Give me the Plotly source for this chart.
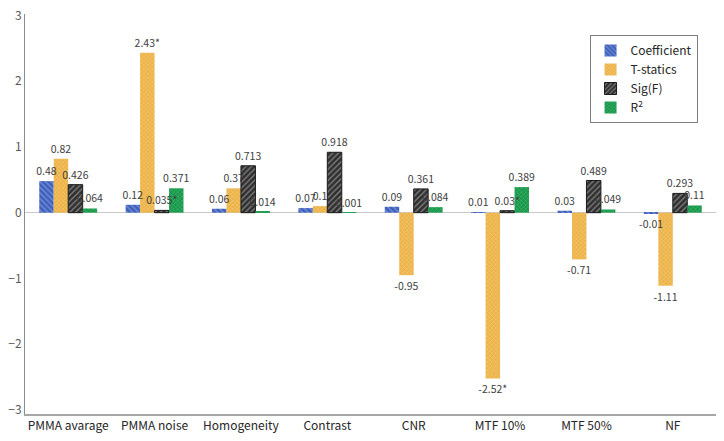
import plotly.graph_objects as go

categories = ["PMMA avarage", "PMMA noise", "Homogeneity", "Contrast", "CNR", "MTF 10%", "MTF 50%", "NF"]
coefficient = [0.48, 0.12, 0.06, 0.07, 0.09, 0.01, 0.03, -0.01]
t_statics = [0.82, 2.43, 0.37, 0.1, -0.95, -2.52, -0.71, -1.11]
sig_f = [0.426, 0.035, 0.713, 0.918, 0.361, 0.03, 0.489, 0.293]
r2 = [0.064, 0.371, 0.014, 0.001, 0.084, 0.389, 0.049, 0.11]

coef_labels = ["0.48", "0.12", "0.06", "0.07", "0.09", "0.01", "0.03", "-0.01"]
t_labels = ["0.82", "2.43*", "0.37", "0.1", "-0.95", "-2.52*", "-0.71", "-1.11"]
sig_labels = ["0.426", "0.035*", "0.713", "0.918", "0.361", "0.03*", "0.489", "0.293"]
r2_labels = ["0.064", "0.371", "0.014", "0.001", "0.084", "0.389", "0.049", "0.11"]

FONT = "Noto Sans CJK KR"
TXT = "#404040"

series = [
    ("Coefficient", coefficient, coef_labels, "#3E60BC", "#A9BDEB", "\\", 4, 0.35, None, 0),
    ("T-statics", t_statics, t_labels, "#EDB348", "#F9DFA6", "x", 3, 0.35, None, 0),
    ("Sig(F)", sig_f, sig_labels, "#2E2E2E", "#CFCFCF", "/", 4, 0.35, "#1a1a1a", 1),
    ("R<sup>2</sup>", r2, r2_labels, "#17984A", "#74CC92", "x", 3, 0.35, None, 0),
]

fig = go.Figure()
# visible bars
for name, vals, labels, bg, fg, shape, size, sol, lc, lw in series:
    fig.add_trace(go.Bar(
        name=name, x=categories, y=vals,
        marker=dict(
            color=bg,
            line=dict(color=lc or bg, width=lw),
            pattern=dict(shape=shape, fgcolor=fg, bgcolor=bg, size=size,
                         solidity=sol, fillmode="overlay"),
        ),
        xaxis="x", yaxis="y",
    ))
# data labels drawn on an overlaid axis so they sit above all bars
for name, vals, labels, bg, fg, shape, size, sol, lc, lw in series:
    fig.add_trace(go.Bar(
        name=name, x=categories, y=vals, text=labels, showlegend=False,
        textposition="outside", constraintext="none", cliponaxis=False,
        textfont=dict(family=FONT, size=10.5, color=TXT),
        marker=dict(color="rgba(0,0,0,0)", line=dict(width=0)),
        xaxis="x2", yaxis="y", hoverinfo="skip",
    ))

fig.update_layout(
    width=724, height=441,
    margin=dict(l=25, r=8, t=14, b=27),
    paper_bgcolor="white", plot_bgcolor="white",
    barmode="group", bargap=0.33, bargroupgap=0,
    font=dict(family=FONT, size=12, color=TXT),
    showlegend=True,
    legend=dict(
        x=0.817, y=0.9475, xanchor="left", yanchor="top",
        bordercolor="#7f7f7f", borderwidth=1, bgcolor="white",
        font=dict(family=FONT, size=12, color="#262626"),
        itemwidth=30, tracegroupgap=0,
    ),
    xaxis2=dict(overlaying="x", matches="x", visible=False, showgrid=False,
                zeroline=False, automargin=False),
)
fig.update_yaxes(
    range=[-3.06, 3.02], tickvals=[-3, -2, -1, 0, 1, 2, 3],
    showgrid=False, zeroline=True, zerolinecolor="#c8c8c8", zerolinewidth=1,
    showline=True, linecolor="#8c8c8c", linewidth=1, automargin=False,
    tickfont=dict(family=FONT, size=12, color="#595959"), ticks="",
)
fig.update_layout(xaxis=dict(
    showgrid=False, showline=True, linecolor="#a6a6a6", linewidth=2, automargin=False,
    tickfont=dict(family=FONT, size=12, color="#262626"), ticks="",
))

fig.write_html("out.html", config={"displayModeBar": False},
               post_script="document.body.style.margin='0';")
